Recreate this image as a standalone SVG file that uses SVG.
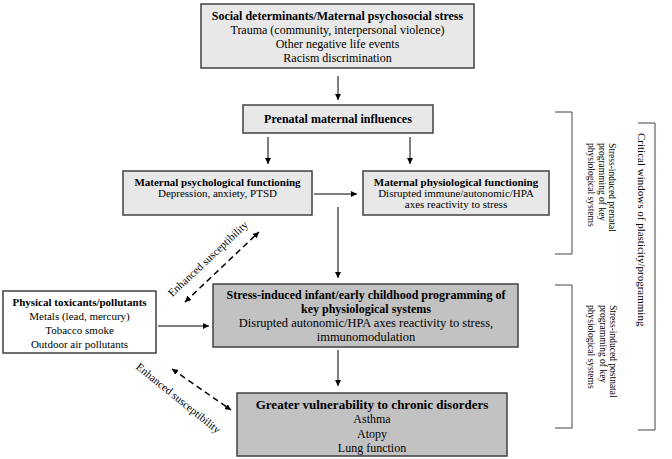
<svg xmlns="http://www.w3.org/2000/svg" width="672" height="459" viewBox="0 0 672 459">
  <defs>
    <marker id="ah" viewBox="0 0 10 10" refX="10" refY="5" markerWidth="6" markerHeight="6" orient="auto-start-reverse" markerUnits="userSpaceOnUse">
      <path d="M0,0 L10,5 L0,10 z" fill="#000"/>
    </marker>
    <style>
      text { font-family: "Liberation Serif", "Times New Roman", serif; fill: #000; }
      .box { stroke: #404040; stroke-width: 1.5; }
      .light { fill: #e8e8e8; }
      .dark { fill: #c2c2c2; }
      .white { fill: #ffffff; }
      .b12 { font-size: 12px; font-weight: bold; }
      .r12 { font-size: 12px; }
      .r125 { font-size: 12.5px; }
      .b11 { font-size: 11px; font-weight: bold; }
      .r11 { font-size: 11px; }
      .b13 { font-size: 13px; font-weight: bold; }
      .r9 { font-size: 9.5px; }
      .conn { stroke: #000; stroke-width: 1; fill: none; }
      .dash { stroke: #000; stroke-width: 1.5; fill: none; stroke-dasharray: 6 4; }
      .brk { stroke: #444; stroke-width: 1; fill: none; }
    </style>
  </defs>

  <g id="social">
    <rect class="box light" x="201" y="4" width="273" height="64"/>
    <text class="b12" x="337.5" y="20" text-anchor="middle">Social determinants/Maternal psychosocial stress</text>
    <text class="r12" x="337.5" y="34" text-anchor="middle">Trauma (community, interpersonal violence)</text>
    <text class="r12" x="337.5" y="48" text-anchor="middle">Other negative life events</text>
    <text class="r12" x="337.5" y="62" text-anchor="middle">Racism discrimination</text>
  </g>

  <g id="prenatal">
    <rect class="box light" x="243" y="105" width="190" height="28"/>
    <text class="b12" x="338" y="123" text-anchor="middle">Prenatal maternal influences</text>
  </g>

  <g id="psych">
    <rect class="box light" x="123" y="171" width="189" height="44"/>
    <text class="b11" x="217.5" y="186" text-anchor="middle">Maternal psychological functioning</text>
    <text class="r11" x="217.5" y="197" text-anchor="middle">Depression, anxiety, PTSD</text>
  </g>

  <g id="physio">
    <rect class="box light" x="363" y="171" width="186" height="44"/>
    <text class="b11" x="456" y="186" text-anchor="middle">Maternal physiological functioning</text>
    <text class="r11" x="456" y="197" text-anchor="middle">Disrupted immune/autonomic/HPA</text>
    <text class="r11" x="456" y="208" text-anchor="middle">axes reactivity to stress</text>
  </g>

  <g id="toxicants">
    <rect class="box white" x="3" y="291" width="153" height="62"/>
    <text class="b11" x="79.5" y="306" text-anchor="middle">Physical toxicants/pollutants</text>
    <text class="r11" x="79.5" y="320" text-anchor="middle">Metals (lead, mercury)</text>
    <text class="r11" x="79.5" y="334" text-anchor="middle">Tobacco smoke</text>
    <text class="r11" x="79.5" y="348" text-anchor="middle">Outdoor air pollutants</text>
  </g>

  <g id="stress">
    <rect class="box dark" x="213" y="284" width="305" height="63"/>
    <text class="b12" x="366" y="299" text-anchor="middle">Stress-induced infant/early childhood programming of</text>
    <text class="b12" x="366" y="313" text-anchor="middle">key physiological systems</text>
    <text class="r125" x="366" y="327" text-anchor="middle">Disrupted autonomic/HPA axes reactivity to stress,</text>
    <text class="r125" x="366" y="341" text-anchor="middle">immunomodulation</text>
  </g>

  <g id="greater">
    <rect class="box dark" x="237" y="393" width="270" height="63"/>
    <text class="b13" x="372" y="409" text-anchor="middle">Greater vulnerability to chronic disorders</text>
    <text class="r12" x="372" y="423" text-anchor="middle">Asthma</text>
    <text class="r12" x="372" y="438" text-anchor="middle">Atopy</text>
    <text class="r12" x="372" y="452" text-anchor="middle">Lung function</text>
  </g>

  <g id="connectors">
    <line class="conn" x1="338" y1="76" x2="338" y2="100" marker-end="url(#ah)"/>
    <line class="conn" x1="268" y1="137" x2="268" y2="164" marker-end="url(#ah)"/>
    <line class="conn" x1="410" y1="137" x2="410" y2="164" marker-end="url(#ah)"/>
    <line class="conn" x1="314" y1="194" x2="357" y2="194" marker-end="url(#ah)"/>
    <line class="conn" x1="338" y1="207" x2="338" y2="278" marker-end="url(#ah)"/>
    <line class="conn" x1="158" y1="326" x2="209" y2="326" marker-end="url(#ah)"/>
    <line class="conn" x1="338" y1="350" x2="338" y2="386" marker-end="url(#ah)"/>
    <line class="dash" x1="185" y1="302" x2="259" y2="232" marker-start="url(#ah)" marker-end="url(#ah)"/>
    <line class="dash" x1="172" y1="369" x2="231" y2="410" marker-start="url(#ah)" marker-end="url(#ah)"/>
  </g>

  <g id="labels">
    <text class="r11" transform="translate(210.5,261.5) rotate(-43)" text-anchor="middle">Enhanced susceptibility</text>
    <text class="r11" transform="translate(176,401) rotate(39)" text-anchor="middle">Enhanced susceptibility</text>
  </g>

  <g id="bracket-prenatal">
    <polyline class="brk" points="555,112 572,112 572,254 555,254"/>
    <text class="r9" transform="translate(609,143) rotate(90)">Stress-induced prenatal</text>
    <text class="r9" transform="translate(598.5,143) rotate(90)">programming of key</text>
    <text class="r9" transform="translate(588,143) rotate(90)">physiological systems</text>
  </g>

  <g id="bracket-postnatal">
    <polyline class="brk" points="555,285 572,285 572,428 555,428"/>
    <text class="r9" transform="translate(610,305) rotate(90)">Stress-induced postnatal</text>
    <text class="r9" transform="translate(599.5,305) rotate(90)">programming of key</text>
    <text class="r9" transform="translate(588,305) rotate(90)">physiological systems</text>
  </g>

  <g id="bracket-critical">
    <polyline class="brk" points="638,123 655,123 655,430 638,430"/>
    <text class="r11" transform="translate(638,133) rotate(90)">Critical windows of plasticity/programming</text>
  </g>
</svg>
